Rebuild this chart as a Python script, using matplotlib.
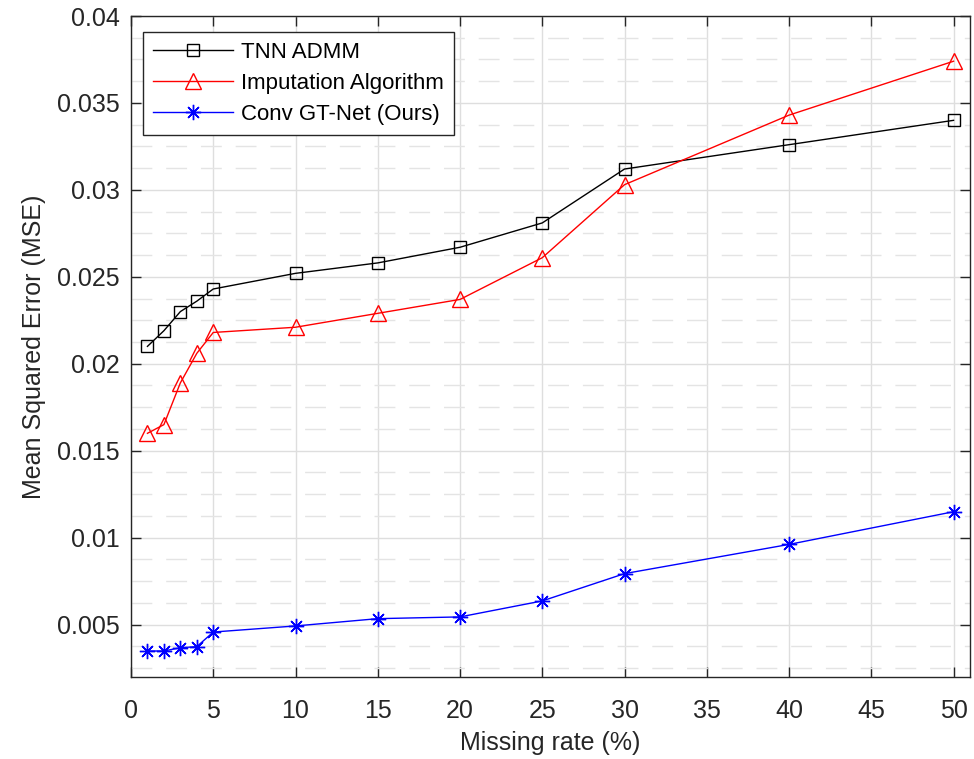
import matplotlib
matplotlib.use("Agg")
import matplotlib.pyplot as plt
from matplotlib.ticker import MultipleLocator

plt.rcParams['font.family'] = ['Liberation Sans', 'DejaVu Sans']

# missing rate (%)
missing_rate = [1, 2, 3, 4, 5, 10, 15, 20, 25, 30, 40, 50]

# MSE values
tnn_admm = [0.0210, 0.0219, 0.0230, 0.0236, 0.0243, 0.0252, 0.0258,
            0.0267, 0.0281, 0.0312, 0.0326, 0.0340]
imputation = [0.0160, 0.0165, 0.0189, 0.0206, 0.0218, 0.0221, 0.0229,
              0.0237, 0.0261, 0.0303, 0.0343, 0.0374]
conv_gtnet = [0.00348, 0.00348, 0.00367, 0.00373, 0.00457, 0.00492, 0.00534,
              0.00544, 0.00636, 0.00793, 0.00961, 0.01149]

labels = ["TNN ADMM", "Imputation Algorithm", "Conv GT-Net (Ours)"]
x_ticks = list(range(0, 51, 5))
y_ticks = [0.005, 0.01, 0.015, 0.02, 0.025, 0.03, 0.035, 0.04]
y_tick_labels = ["0.005", "0.01", "0.015", "0.02", "0.025", "0.03", "0.035", "0.04"]

axis_col = "#262626"

fig = plt.figure(figsize=(9.74, 7.59), dpi=100)
ax = fig.add_axes([0.1345, 0.1084, 0.8614, 0.8705])

ax.plot(missing_rate, tnn_admm, color="black", lw=1.0, marker="s", ms=9,
        mfc="none", mec="black", mew=1.0, label=labels[0])
ax.plot(missing_rate, imputation, color="red", lw=1.0, marker="^", ms=12,
        mfc="none", mec="red", mew=1.0, label=labels[1])
ax.plot(missing_rate, conv_gtnet, color="blue", lw=1.0, marker=(8, 2, 0), ms=11,
        mec="blue", mew=1.0, label=labels[2])

ax.set_xlim(0, 51)
ax.set_ylim(0.002, 0.04)
ax.set_xticks(x_ticks)
ax.set_yticks(y_ticks)
ax.set_yticklabels(y_tick_labels)
ax.yaxis.set_minor_locator(MultipleLocator(0.00125))

ax.grid(True, which="major", color="#dedede", lw=1.0)
ax.grid(True, which="minor", axis="y", color="#e4e4e4", lw=1.0,
        linestyle=(0, (15, 10)))
ax.set_axisbelow(True)

ax.tick_params(which="major", direction="in", length=7, width=1.0,
               top=True, right=True, labelsize=18, colors=axis_col, pad=8)
ax.tick_params(axis="x", which="major", pad=16)
ax.tick_params(which="minor", length=0)
for s in ax.spines.values():
    s.set_color(axis_col)
    s.set_linewidth(1.0)

ax.set_xlabel("Missing rate (%)", fontsize=18, color=axis_col, labelpad=6)
ax.set_ylabel("Mean Squared Error (MSE)", fontsize=18, color=axis_col, labelpad=8)

leg = ax.legend(loc="upper left", bbox_to_anchor=(0.0143, 0.976),
                borderaxespad=0, fontsize=16, fancybox=False, framealpha=1,
                edgecolor=axis_col, handlelength=3.6, handletextpad=0.35,
                labelspacing=0.45, borderpad=0.45)
leg.get_frame().set_linewidth(1.0)

fig.savefig("out.png", dpi=100)
